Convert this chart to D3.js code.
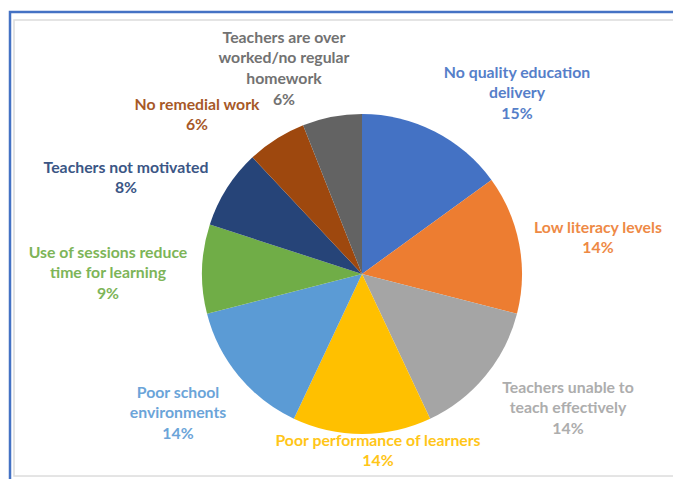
<!DOCTYPE html>
<html>
<head>
<meta charset="utf-8">
<script src="https://cdn.jsdelivr.net/npm/d3@7"></script>
<style>
  html, body { margin: 0; padding: 0; background: #fff; }
  svg { display: block; }
  .lbl { font-family: Lato, "Open Sans", sans-serif; font-weight: bold; font-size: 15.8px; }
</style>
</head>
<body>
<svg id="chart" width="673" height="479"></svg>
<script>
// slices go clockwise from 12 o'clock
var categories = [
  "No quality education delivery",
  "Low literacy levels",
  "Teachers unable to teach effectively",
  "Poor performance of learners",
  "Poor school environments",
  "Use of sessions reduce time for learning",
  "Teachers not motivated",
  "No remedial work",
  "Teachers are over worked/no regular homework"
];
var shares = [15, 14, 14, 14, 14, 9, 8, 6, 6];

// how each label wraps, as in the original
var labelLines = [
  ["No quality education", "delivery"],
  ["Low literacy levels"],
  ["Teachers unable to", "teach effectively"],
  ["Poor performance of learners"],
  ["Poor school", "environments"],
  ["Use of sessions reduce", "time for learning"],
  ["Teachers not motivated"],
  ["No remedial work"],
  ["Teachers are over", "worked/no regular", "homework"]
];

var colors = ["#4472C4", "#ED7D31", "#A5A5A5", "#FFC000", "#5B9BD5",
              "#70AD47", "#264478", "#9E480E", "#636363"];

// label block anchors (centre x, centre of first line y) - layout only
var labelAt = [
  [517, 72], [598, 227], [568, 387], [378, 440], [178, 392],
  [108, 252], [126, 167], [197, 104], [284, 37]
];

var svg = d3.select("#chart");
var W = 673, H = 479;

// frame: blue outer line, light grey inner line
svg.append("rect").attr("x", 14).attr("y", 20).attr("width", W).attr("height", 456)
  .attr("fill", "#fff").attr("stroke", "#dcdcdc").attr("stroke-width", 1.5);
svg.append("path").attr("d", "M10," + H + " V12 H" + W)
  .attr("fill", "none").attr("stroke", "#4472C4").attr("stroke-width", 2.5);

var cx = 362, cy = 274, r = 160;

var pie = d3.pie().sort(null).value(function(d){ return d; });
var arc = d3.arc().innerRadius(0).outerRadius(r);

var arcs = pie(shares);
var g = svg.append("g").attr("transform", "translate(" + cx + "," + cy + ")");

g.selectAll("path.slice")
  .data(arcs)
  .enter()
  .append("path")
  .attr("class", "slice")
  .attr("d", arc)
  .attr("fill", function(d, i){ return colors[i]; });

var fmt = d3.format(".0%");
var lineH = 20.8;

var labels = svg.selectAll("text.lbl")
  .data(arcs)
  .enter()
  .append("text")
  .attr("class", "lbl")
  .attr("text-anchor", "middle")
  .attr("fill", function(d, i){ return colors[i]; })
  .attr("opacity", 0.9);

labels.each(function(d, i){
  var t = d3.select(this);
  var lines = labelLines[i].concat([fmt(d.data / 100)]);
  lines.forEach(function(s, k){
    t.append("tspan")
      .attr("x", labelAt[i][0])
      .attr("y", labelAt[i][1] + k * lineH)
      .attr("dy", "0.35em")
      .text(s);
  });
});
</script>
</body>
</html>
